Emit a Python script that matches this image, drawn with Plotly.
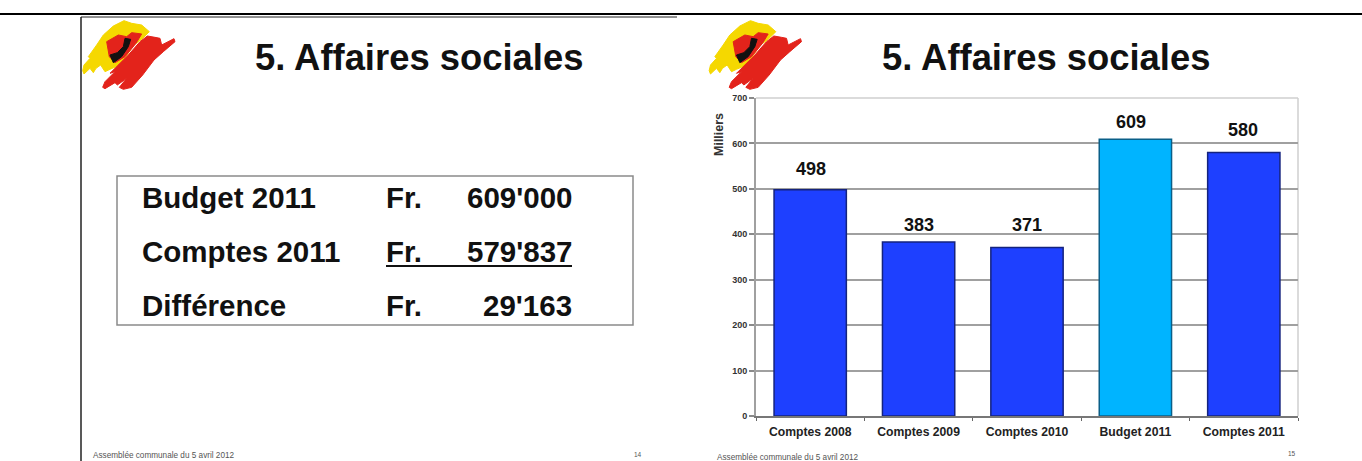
import plotly.graph_objects as go

W, H = 1362, 461

categories = ["Comptes 2008", "Comptes 2009", "Comptes 2010", "Budget 2011", "Comptes 2011"]
values = [498, 383, 371, 609, 580]
bar_colors = ["#1E40FF", "#1E40FF", "#1E40FF", "#00B4FF", "#1E40FF"]
bar_edges = ["#14237E", "#14237E", "#14237E", "#0A5F88", "#14237E"]
label_yshift = [12, 8, 13, 8, 14]
label_xshift = [1, 0, 0, -4, -1]
y_ticks = [0, 100, 200, 300, 400, 500, 600, 700]

slide_title = "5. Affaires sociales"
table_rows = [
    ("Budget 2011", "Fr.", "609'000"),
    ("Comptes 2011", "Fr.", "579'837"),
    ("Différence", "Fr.", "29'163"),
]
footer = "Assemblée communale du 5 avril 2012"

FONT = "Liberation Sans, Arial, sans-serif"


def px(x):
    return x / W


def py(y):
    return 1 - y / H


fig = go.Figure(
    go.Bar(
        x=categories,
        y=values,
        marker=dict(color=bar_colors, line=dict(color=bar_edges, width=1.5)),
        hoverinfo="x+y",
    )
)

shapes = []
annotations = []


def text(x, y, s, size, anchor="left", color="#111111", bold=True, angle=0):
    annotations.append(
        dict(
            xref="paper", yref="paper", x=px(x), y=py(y), text=s,
            showarrow=False, xanchor=anchor, yanchor="middle", textangle=angle,
            font=dict(family=FONT, size=size, color=color, weight="bold" if bold else "normal"),
            borderpad=0, borderwidth=0,
        )
    )


def line(x0, y0, x1, y1, color, width):
    shapes.append(
        dict(type="line", xref="paper", yref="paper", x0=px(x0), y0=py(y0), x1=px(x1), y1=py(y1),
             line=dict(color=color, width=width), layer="above")
    )


# Logo outlines, given in 3x-zoom units relative to the left slide
LOGO = [
    ("#F5D800", [(68,212),(72,195),(90,175),(85,170),(110,135),(130,105),(160,78),(192,62),(215,70),
                 (245,75),(268,95),(245,118),(222,135),(180,195),(150,208),(135,215),(122,195),
                 (108,205),(100,218),(90,205),(72,222)]),
    ("#E3231B", [(140,125),(175,105),(200,110),(215,98),(245,102),(228,130),(195,170),(165,188),(148,170)]),
    ("#111111", [(150,165),(172,158),(190,140),(195,115),(212,118),(205,140),(185,170),(160,188)]),
    ("#E3231B", [(128,262),(135,245),(165,215),(150,220),(175,195),(205,165),(240,125),(262,108),
                 (285,112),(300,115),(305,135),(342,116),(345,125),(310,155),(282,180),(248,225),
                 (215,262),(190,268),(178,262),(200,235),(172,255),(165,248),(135,266)]),
]


def logo(ox):
    for color, pts in LOGO:
        path = ""
        for i, (zx, zy) in enumerate(pts):
            path += f"{'M' if i == 0 else 'L'}{px(ox + zx / 3):.5f},{py(zy / 3):.5f} "
        shapes.append(dict(type="path", xref="paper", yref="paper", path=path + "Z",
                           fillcolor=color, line=dict(color=color, width=1), layer="above"))


# Page frame
line(0, 14, W, 14, "#000000", 2)
line(81, 17, 677, 17, "#222222", 1)
line(81, 17, 81, H, "#222222", 1.5)

# Left slide
logo(60)
text(419, 58, slide_title, 36.4, "center")
shapes.append(dict(type="rect", xref="paper", yref="paper", x0=px(117), x1=px(633), y0=py(176), y1=py(325),
                   line=dict(color="#8A8A8A", width=1.5), fillcolor="rgba(0,0,0,0)", layer="below"))
for row, y in zip(table_rows, [198, 252, 305]):
    text(142, y, row[0], 29.5)
    text(386, y, row[1], 29.5)
    text(572, y, row[2], 29.5, "right")
line(386, 266, 572, 266, "#111111", 2)
text(93, 455, footer, 8.2, color="#555555", bold=False)
text(634, 454, "14", 6.5, color="#555555", bold=False)

# Right slide
logo(686.5)
text(1046, 58, slide_title, 36.4, "center")
text(719, 135, "Milliers", 12.5, "center", color="#333333", angle=-90)
text(717, 457, footer, 8.2, color="#555555", bold=False)
text(1288, 453, "15", 6.5, color="#555555", bold=False)

# Value labels follow the data through the axes
for c, v, dy, dx in zip(categories, values, label_yshift, label_xshift):
    annotations.append(dict(x=c, y=v, xref="x", yref="y", text=str(v), showarrow=False,
                            yanchor="bottom", yshift=dy - 3, xshift=dx,
                            font=dict(family=FONT, size=18, color="#111111", weight="bold")))

# Plot frame (light top/right edges)
shapes.append(dict(type="line", xref="x domain", yref="y domain", x0=1, x1=1, y0=0, y1=1,
                   line=dict(color="#CFCFCF", width=1.5), layer="below"))
shapes.append(dict(type="line", xref="x domain", yref="y domain", x0=0, x1=1, y0=1, y1=1,
                   line=dict(color="#CFCFCF", width=1.5), layer="below"))

fig.update_layout(
    width=W, height=H, autosize=False,
    margin=dict(l=0, r=0, t=0, b=0, autoexpand=False),
    paper_bgcolor="white", plot_bgcolor="white",
    showlegend=False, bargap=0.333,
    xaxis=dict(domain=[px(756), px(1298)], type="category", tickson="boundaries",
               ticks="outside", ticklen=3, tickcolor="#666666", tickwidth=1, ticklabelstandoff=4,
               showgrid=False, showline=True, linecolor="#777777", linewidth=1.5,
               tickfont=dict(family=FONT, size=12.2, color="#222222", weight="bold")),
    yaxis=dict(domain=[py(416), py(98)], range=[0, 700], tickvals=y_ticks,
               ticks="outside", ticklen=5, tickcolor="#8A8A8A", tickwidth=1.5,
               showgrid=True, gridcolor="#A0A0A0", gridwidth=1.5,
               showline=True, linecolor="#A0A0A0", linewidth=2, zeroline=False,
               tickfont=dict(family=FONT, size=9, color="#333333", weight="bold")),
    shapes=shapes, annotations=annotations,
)

fig.write_html("out.html", config=dict(displayModeBar=False),
               post_script="document.body.style.margin='0';")
